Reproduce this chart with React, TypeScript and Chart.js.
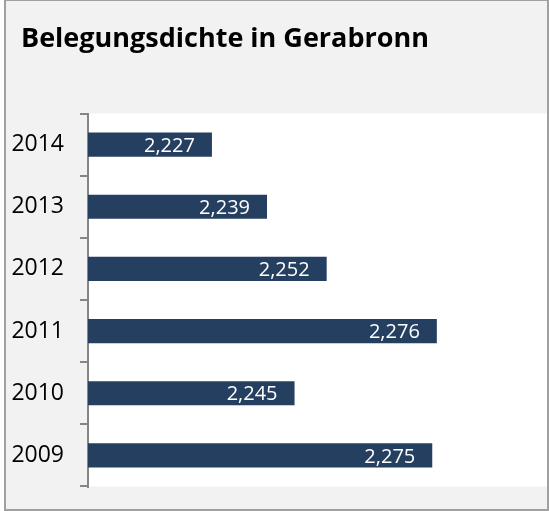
import React, { useEffect, useRef } from "react";
import { Chart, registerables } from "chart.js";

Chart.register(...registerables);

const chartTitle = "Belegungsdichte in Gerabronn";
const years = ["2014", "2013", "2012", "2011", "2010", "2009"];
const density = [2.227, 2.239, 2.252, 2.276, 2.245, 2.275];
const axisMin = 2.2;
const axisMax = 2.3;

const FONT = "'Open Sans', 'Noto Sans', sans-serif";
const BAR_COLOR = "#253F60";
const AXIS_COLOR = "#868686";

const formatDE = (v: number) => v.toFixed(3).replace(".", ",");

const plotBackground = {
  id: "plotBackground",
  afterLayout(chart: any) {
    // shift the title to the frame's inner left margin
    if (chart.titleBlock) chart.titleBlock.left = 21;
  },
  beforeDraw(chart: any) {
    const { ctx, chartArea } = chart;
    if (!chartArea) return;
    ctx.save();
    ctx.fillStyle = "#ffffff";
    ctx.fillRect(
      chartArea.left,
      chartArea.top,
      chartArea.right - chartArea.left,
      chartArea.bottom - chartArea.top
    );
    ctx.restore();
  },
};

const insideEndLabels = {
  id: "insideEndLabels",
  afterDatasetsDraw(chart: any) {
    const { ctx } = chart;
    const meta = chart.getDatasetMeta(0);
    const data = chart.data.datasets[0].data as number[];
    const size = 20;
    ctx.save();
    ctx.font = `${size}px ${FONT}`;
    ctx.fillStyle = "#ffffff";
    ctx.textAlign = "right";
    ctx.textBaseline = "alphabetic";
    meta.data.forEach((bar: any, i: number) => {
      ctx.fillText(formatDE(data[i]), bar.x - 17, bar.y + size * 0.357);
    });
    ctx.restore();
  },
};

export default function App() {
  const canvasRef = useRef<HTMLCanvasElement | null>(null);

  useEffect(() => {
    if (!canvasRef.current) return;
    const chart = new Chart(canvasRef.current, {
      type: "bar",
      data: {
        labels: years,
        datasets: [
          {
            data: density,
            backgroundColor: BAR_COLOR,
            borderWidth: 0,
            barPercentage: 0.39,
            categoryPercentage: 1,
          },
        ],
      },
      options: {
        indexAxis: "y",
        animation: false,
        responsive: false,
        layout: { padding: { left: 6, right: 2, top: 0, bottom: 24.5 } },
        plugins: {
          legend: { display: false },
          tooltip: { enabled: false },
          title: {
            display: true,
            text: chartTitle,
            align: "start",
            color: "#000000",
            font: { family: FONT, size: 27, weight: "bold", lineHeight: 1.2 },
            padding: { top: 23.5, bottom: 57.6 },
          },
        },
        scales: {
          x: {
            display: false,
            min: axisMin,
            max: axisMax,
          },
          y: {
            afterFit(scale: any) {
              scale.width = 82;
              scale.paddingTop = 0;
              scale.paddingBottom = 0;
            },
            grid: {
              drawOnChartArea: false,
              drawTicks: true,
              tickLength: 8,
              color: AXIS_COLOR,
              lineWidth: 2,
            },
            border: { display: true, color: AXIS_COLOR, width: 2 },
            ticks: {
              color: "#000000",
              padding: 16,
              font: { family: FONT, size: 23 },
            },
          },
        },
      },
      plugins: [plotBackground, insideEndLabels],
    });
    return () => chart.destroy();
  }, []);

  return (
    <div
      style={{
        position: "absolute",
        left: 0,
        top: 0,
        width: 549,
        height: 511,
        background: "#ffffff",
        overflow: "hidden",
      }}
    >
      <div
        style={{
          position: "absolute",
          left: 4,
          top: -1,
          width: 545,
          height: 512,
          boxSizing: "border-box",
          border: "2px solid #a0a0a0",
          background: "#f2f2f2",
        }}
      />
      <canvas
        ref={canvasRef}
        width={549}
        height={511}
        style={{ position: "absolute", left: 0, top: 0, display: "block" }}
      />
    </div>
  );
}
